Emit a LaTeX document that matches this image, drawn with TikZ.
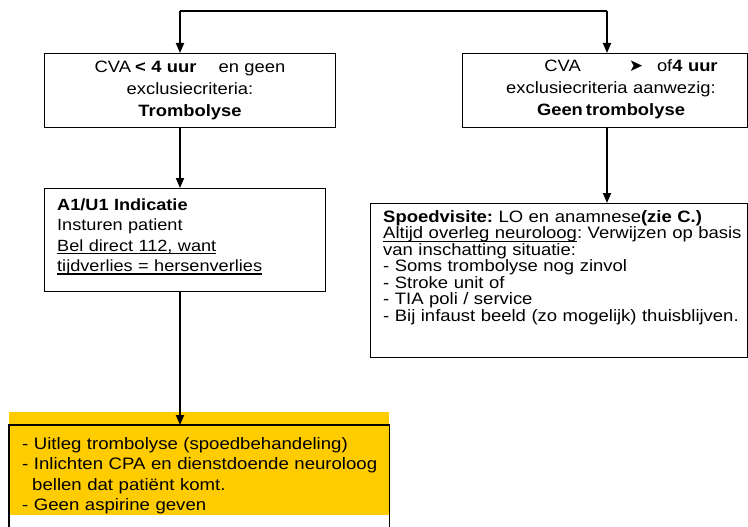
\documentclass[tikz,border=0pt]{standalone}
\usepackage{fontspec}
\setmainfont{Liberation Sans}[FakeStretch=1.12]
\newfontfamily\pijlfont{DejaVu Sans}
\usepackage{tikz}
\usetikzlibrary{arrows.meta}
\definecolor{geel}{HTML}{FFCC00}
\newsavebox\ondbox
\newcommand{\ondstr}[2][1.5pt]{\leavevmode\sbox\ondbox{#2}\rlap{\rule[-3.5pt]{\wd\ondbox}{#1}}\usebox\ondbox}
\frenchspacing

\begin{document}
\begin{tikzpicture}[
  x=1pt, y=-1pt,
  box/.style={draw, line width=1.2pt, inner sep=0pt, anchor=north west},
  tekst/.style={inner sep=0pt, anchor=base, font=\fontsize{16.4}{22}\selectfont},
  lijst/.style={inner sep=0pt, anchor=base west, align=left},
  lijn/.style={line width=1.3pt},
  pijl/.style={line width=1.8pt, -{Triangle[length=10pt,width=8pt]}}
]
\useasboundingbox (0,0) rectangle (748,527);

% ── Splitsing bovenaan ──────────────────────────────────────────────────
\coordinate (splitL) at (180,11);
\coordinate (splitR) at (607,11);

% ── Bovenste rij: trombolyse ja / nee ───────────────────────────────────
\node[box, minimum width=291pt, minimum height=74pt] (trombo) at (44,53) {};
\node[tekst, text width=280pt, align=center] (trombotxt) at (190,73)
  {CVA\hspace{4pt}\textbf{< 4 uur}\hspace{22pt}en geen\\exclusiecriteria:\\\textbf{Trombolyse}};

\node[box, minimum width=285pt, minimum height=74pt] (geen) at (462,53) {};
\node[tekst, text width=280pt, align=center] (geentxt) at (611,72)
  {\hspace*{40pt}CVA\hspace{48pt}{\pijlfont\fontsize{17}{17}\selectfont ➤}\hspace{14pt}of\textbf{4 uur}\\
   exclusiecriteria aanwezig:\\\textbf{Geen\hspace{3pt}trombolyse}};

% ── Tweede rij: indicatie en spoedvisite ────────────────────────────────
\node[box, minimum width=281pt, minimum height=103pt] (indicatie) at (44,188) {};
\node[lijst, text width=260pt, font=\fontsize{16.2}{20.5}\selectfont] (indicatietxt) at (57,210)
  {\textbf{A1/U1 Indicatie}\\Insturen patient\\\ondstr[1.8pt]{Bel direct 112, want}\\
   \ondstr[1.8pt]{tijdverlies = hersenverlies}};

\node[box, minimum width=377pt, minimum height=154pt] (spoed) at (370,203) {};
\node[lijst, text width=400pt, font=\fontsize{16.5}{16.6}\selectfont] (spoedtxt) at (383,222)
  {\textbf{Spoedvisite:} LO en anamnese\textbf{(zie C.)}\\
   \ondstr{Altijd overleg neuroloog}: Verwijzen op basis\\
   van inschatting situatie:\\
   - Soms trombolyse nog zinvol\\
   - Stroke unit of\\
   - TIA poli / service\\
   - Bij infaust beeld (zo mogelijk) thuisblijven.};

% ── Onderste blok (geel) ────────────────────────────────────────────────
\fill[geel] (9,412) rectangle (389,515);
\node[inner sep=0pt, anchor=north west, minimum width=380pt, minimum height=102pt] (instr) at (9,425) {};
\draw[lijn] (instr.south west) -- (instr.north west) -- (instr.north east) -- (instr.south east);
\node[lijst, text width=370pt, font=\fontsize{16.6}{20.5}\selectfont] (instrtxt) at (22,449)
  {- Uitleg trombolyse (spoedbehandeling)\\
   - Inlichten CPA en dienstdoende neuroloog\\
   \hspace*{10pt}bellen dat patiënt komt.\\
   - Geen aspirine geven};

% ── Verbindingen ────────────────────────────────────────────────────────
\draw[lijn] (splitL) -- (splitR);
\draw[pijl] (splitL) -- (splitL |- trombo.north);
\draw[pijl] (splitR) -- (splitR |- geen.north);
\draw[pijl] (splitL |- trombo.south) -- (splitL |- indicatie.north);
\draw[pijl] (splitR |- geen.south) -- (splitR |- spoed.north);
\draw[pijl] (splitL |- indicatie.south) -- (splitL |- instr.north);

\end{tikzpicture}
\end{document}
